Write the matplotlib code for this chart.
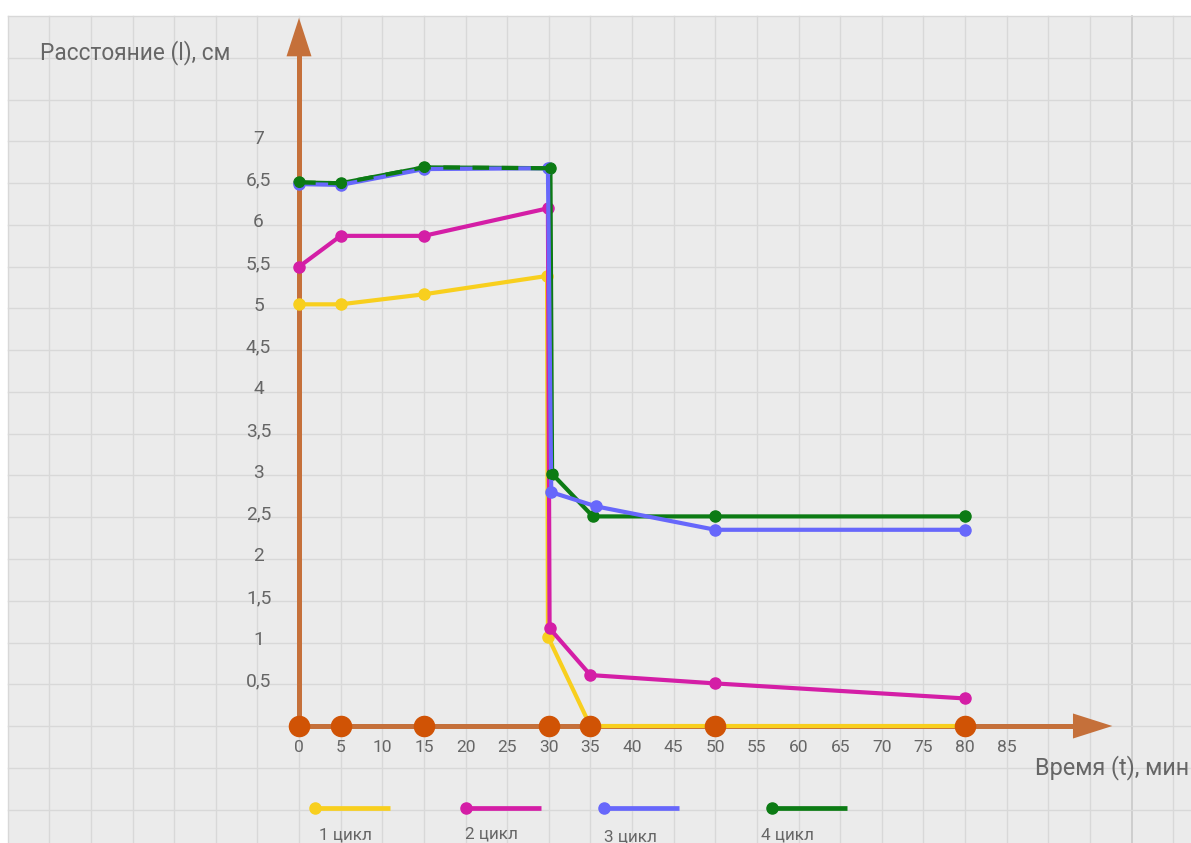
import matplotlib
matplotlib.use("Agg")
import matplotlib.pyplot as plt
from matplotlib.patches import Polygon, Rectangle

plt.rcParams['font.family'] = ['Roboto', 'DejaVu Sans']

# Time (min) and distance (cm) for each cycle
t_cycle1 = [0, 5, 15, 29.8, 29.9, 35, 50, 80]
l_cycle1 = [5.05, 5.05, 5.17, 5.39, 1.07, 0, 0, 0]

t_cycle2 = [0, 5, 15, 29.9, 30.1, 35, 50, 80]
l_cycle2 = [5.5, 5.87, 5.87, 6.2, 1.17, 0.61, 0.51, 0.33]

t_cycle3 = [0, 5, 15, 29.9, 30.3, 35.7, 50, 80]
l_cycle3 = [6.49, 6.48, 6.67, 6.68, 2.8, 2.63, 2.35, 2.35]

t_cycle4 = [0, 5, 15, 30.2, 30.4, 35.3, 50, 80]
l_cycle4 = [6.51, 6.5, 6.69, 6.68, 3.02, 2.51, 2.51, 2.51]

measure_times = [0, 5, 15, 30, 35, 50, 80]

x_ticks = [0, 5, 10, 15, 20, 25, 30, 35, 40, 45, 50, 55, 60, 65, 70, 75, 80, 85]
y_ticks = [0.5, 1, 1.5, 2, 2.5, 3, 3.5, 4, 4.5, 5, 5.5, 6, 6.5, 7]

series_labels = ['1 цикл', '2 цикл', '3 цикл', '4 цикл']
series_colors = ['#f8cf1e', '#d41ea6', '#6767fb', '#0c7b14']

axis_color = '#c5703a'
dot_color = '#d05305'
text_color = '#666666'

W, H = 1191, 843
fig = plt.figure(figsize=(W / 100, H / 100), dpi=100)
fig.patch.set_facecolor('white')
ax = fig.add_axes([0, 0, 1, 1])
ax.set_axis_off()

# pixel scale of the drawing: 8.325 px per minute, 83.5 px per cm
x0_px, y0_px = 299, 726
sx, sy = 8.325, 83.5
ax.set_xlim(-x0_px / sx, (W - x0_px) / sx)
ax.set_ylim(-(H - y0_px) / sy, y0_px / sy)
xl, xr = ax.get_xlim()
yb, yt = ax.get_ylim()

# grid paper
ax.add_patch(Rectangle((-35, yb), xr + 35, 8.5 - yb, facecolor='#ebebeb',
                       edgecolor='none', zorder=0))
gx = -35
while gx <= xr:
    col = '#c9c9c9' if gx == 100 else '#d8d8d8'
    ax.plot([gx, gx], [yb, 8.5], color=col, lw=1.2 if gx == 100 else 1.0, zorder=1)
    gx += 5
gy = -1.0
while gy <= 8.5:
    ax.plot([-35, xr], [gy, gy], color='#d8d8d8', lw=1.0, zorder=1)
    gy += 0.5

# axes with arrowheads
ax.plot([0, 0], [0, 8.1], color=axis_color, lw=3.6, solid_capstyle='butt', zorder=3)
ax.plot([0, 93.3], [0, 0], color=axis_color, lw=3.6, solid_capstyle='butt', zorder=3)
ax.add_patch(Polygon([(-1.5, 8.02), (1.5, 8.02), (0, 8.48)], closed=True,
                     facecolor=axis_color, edgecolor='none', zorder=3))
ax.add_patch(Polygon([(92.97, 0.15), (92.97, -0.15), (97.7, 0)], closed=True,
                     facecolor=axis_color, edgecolor='none', zorder=3))

# tick labels
for v in y_ticks:
    s = ('%g' % v).replace('.', ',')
    ax.text(-4.85, v + 0.03, s, ha='center', va='center', fontsize=13.8,
            color=text_color, zorder=4)
for v in x_ticks:
    ax.text(v, -0.26, str(v), ha='center', va='center', fontsize=12.5,
            color=text_color, zorder=4)

ax.text(-31.1, 8.06, 'Расстояние (l), см', ha='left', va='center', fontsize=16.3,
        color=text_color, zorder=4)
ax.text(88.4, -0.5, 'Время (t), мин', ha='left', va='center', fontsize=16.8,
        color=text_color, zorder=4)

# data lines
lw, ms = 3.0, 8
ax.plot(t_cycle1, l_cycle1, color=series_colors[0], lw=lw, marker='o', ms=ms, zorder=5)
ax.plot(t_cycle2, l_cycle2, color=series_colors[1], lw=lw, marker='o', ms=ms, zorder=5)
ax.plot(t_cycle4, l_cycle4, color=series_colors[3], lw=lw, marker='o', ms=ms, zorder=5)
ax.plot(t_cycle3, l_cycle3, color=series_colors[2], lw=lw, marker='o', ms=ms, zorder=6)
# green dashes over the shared upper segment
ax.plot(t_cycle4[:4], l_cycle4[:4], color=series_colors[3], lw=lw,
        dashes=(4, 3), zorder=7)
ax.plot(t_cycle4[:2], l_cycle4[:2], color=series_colors[3], lw=0, marker='o',
        ms=ms - 1, zorder=7)
ax.plot(t_cycle4[2:5], l_cycle4[2:5], color=series_colors[3], lw=0, marker='o',
        ms=ms - 1, zorder=7)

# measurement points on the time axis
ax.plot(measure_times, [0] * len(measure_times), lw=0, marker='o', ms=14.5,
        color=dot_color, zorder=8)

# legend drawn on the grid
leg_x = [1.92, 20.1, 36.6, 56.8]
leg_text_x = [5.6, 23.1, 39.8, 58.7]
leg_text_y = [-1.31, -1.29, -1.33, -1.31]
for i in range(4):
    ax.plot([leg_x[i], leg_x[i] + 9.0], [-0.98, -0.98], color=series_colors[i],
            lw=3.4, solid_capstyle='butt', zorder=5)
    ax.plot([leg_x[i]], [-0.98], marker='o', ms=8, color=series_colors[i], zorder=5)
    ax.text(leg_text_x[i], leg_text_y[i], series_labels[i], ha='center', va='center',
            fontsize=12.3, color=text_color, zorder=5)

fig.savefig('out.png', dpi=100)
